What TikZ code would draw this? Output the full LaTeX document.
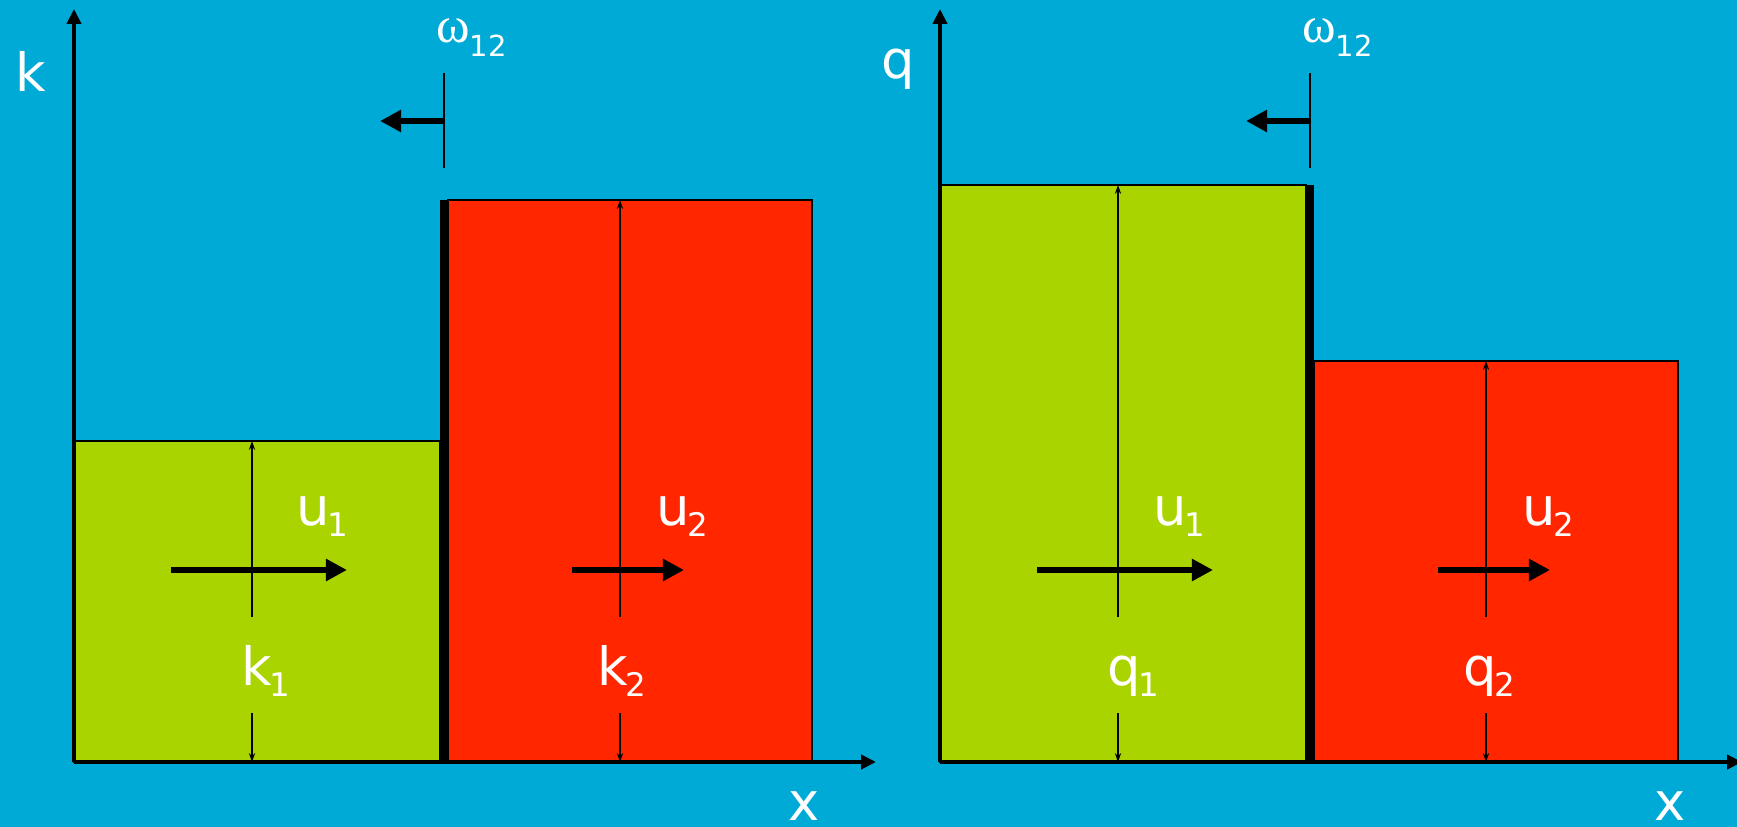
\documentclass[tikz,border=0pt]{standalone}
\usepackage{fontspec}
\setmainfont{DejaVu Sans}
\newfontfamily\greekfont{Liberation Serif}
\usetikzlibrary{arrows.meta}
\definecolor{sky}{RGB}{0,170,214}
\definecolor{grass}{RGB}{170,212,0}
\definecolor{flame}{RGB}{255,38,0}
% letter with a lowered index
\newcommand{\idx}[2]{#1\kern-1.5pt\raisebox{-6.8pt}{\fontsize{18.5}{18.5}\selectfont #2}}

\tikzset{
  lbl/.style={text=white,inner sep=0pt,anchor=base west,font=\fontsize{30}{30}\selectfont},
  axis/.style={line width=2.3pt,-{Triangle[length=8.5pt,width=8pt]}},
  block/.style={draw=black,line width=1.1pt},
  gauge/.style={line width=0.9pt,-{Stealth[length=5pt,width=3.5pt]}},
  speed/.style={line width=3.4pt,-{Triangle[length=12pt,width=12pt]}},
}

\begin{document}
\begin{tikzpicture}[x=0.02cm,y=-0.02cm]
  \useasboundingbox[fill=sky] (0,0) rectangle (1737,827);
  \foreach \dx/\v/\gt/\rt/\wt/\ay/\ut in {0/k/441/200/200/92/0,866/q/185/361/185/79/-9}{
    \begin{scope}[shift={(\dx,0)}]
      % the two blocks and the front between them
      \draw[block,fill=grass] (74,\gt) rectangle (440,762);
      \draw[block,fill=flame] (448,\rt) rectangle (812,762);
      \coordinate (\v w) at (444,\wt);
      \coordinate (\v wb) at (444,762);
      \draw[line width=4.3pt] (\v w) -- (\v wb);
      % axes
      \coordinate (\v o) at (74,762);
      \coordinate (\v top) at (74,9);
      \coordinate (\v end) at (876,762);
      \draw[axis] (\v o) -- (\v top);
      \draw[axis] (\v o) -- (\v end);
      \node[lbl] (\v ax) at (15,\ay) {\v};
      \node[lbl] (\v x) at (788,820) {x};
      % front speed
      \coordinate (\v f1) at (444,73);
      \coordinate (\v f2) at (444,168);
      \coordinate (\v fm) at (444,121);
      \coordinate (\v fl) at (380,121);
      \draw[line width=1.1pt] (\v f1) -- (\v f2);
      \draw[speed] (\v fm) -- (\v fl);
      \node[lbl,font=\fontsize{29}{29}\selectfont] (\v om) at (436,43)
        {\greekfont ω\raisebox{-7.5pt}{\fontspec{DejaVu Sans}\fontsize{16.5}{16.5}\selectfont 12}};
      % velocities
      \coordinate (\v a1) at (171,570);
      \coordinate (\v b1) at (347,570);
      \coordinate (\v a2) at (572,570);
      \coordinate (\v b2) at (684,570);
      \draw[speed] (\v a1) -- (\v b1);
      \draw[speed] (\v a2) -- (\v b2);
      \node[lbl] (\v u1) at (296+\ut,525) {\idx{u}{1}};
      \node[lbl] (\v u2) at (656,525) {\idx{u}{2}};
      % heights
      \coordinate (\v t1) at (252,\gt);
      \coordinate (\v m1) at (252,617);
      \coordinate (\v n1) at (252,713);
      \coordinate (\v bb1) at (252,762);
      \coordinate (\v t2) at (620,\rt);
      \coordinate (\v m2) at (620,617);
      \coordinate (\v n2) at (620,713);
      \coordinate (\v bb2) at (620,762);
      \draw[gauge] (\v m1) -- (\v t1);
      \draw[gauge] (\v n1) -- (\v bb1);
      \draw[gauge] (\v m2) -- (\v t2);
      \draw[gauge] (\v n2) -- (\v bb2);
      \node[lbl] (\v1) at (241,685) {\idx{\v}{1}};
      \node[lbl] (\v2) at (597,685) {\idx{\v}{2}};
    \end{scope}
  }
\end{tikzpicture}
\end{document}
